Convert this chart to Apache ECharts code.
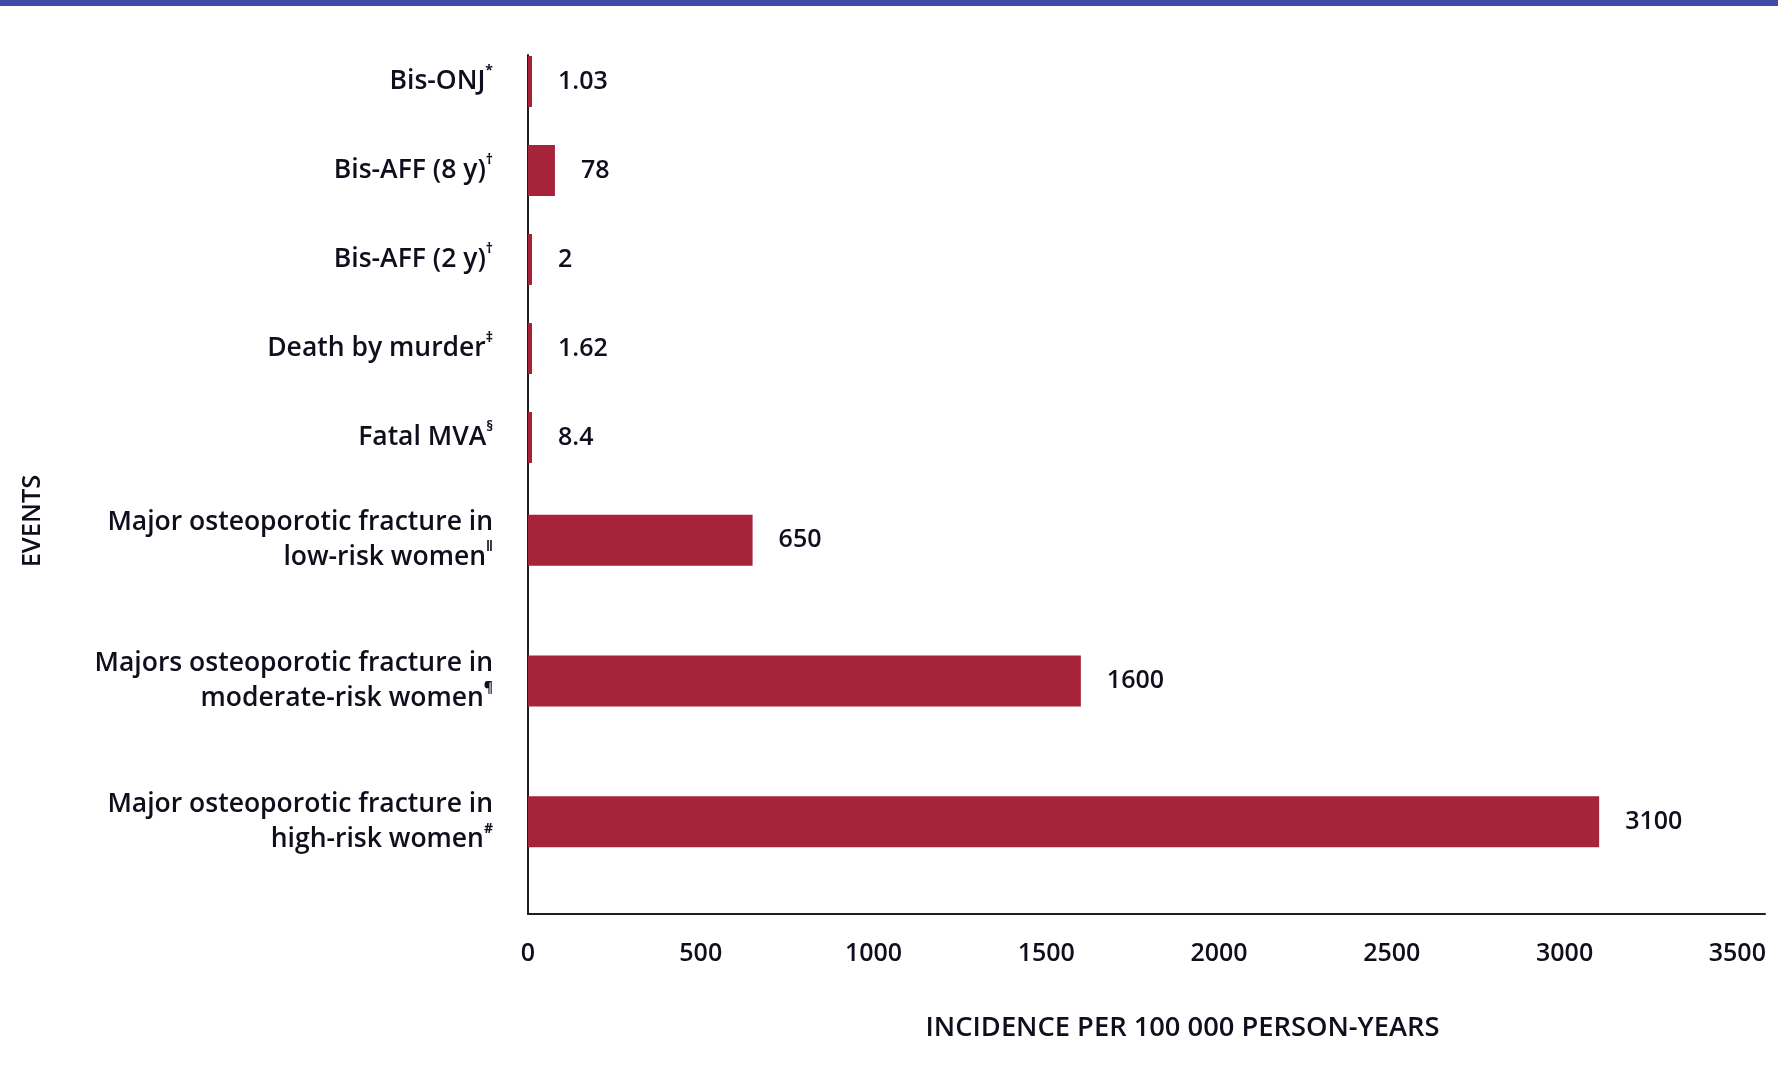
<!DOCTYPE html>
<html>
<head>
<meta charset="utf-8">
<title>Incidence per 100 000 person-years</title>
<script src="https://cdn.jsdelivr.net/npm/echarts@6/dist/echarts.min.js"></script>
<style>
  html, body { margin: 0; padding: 0; background: #ffffff; }
  #chart { width: 1791px; height: 1070px; }
</style>
</head>
<body>
<div id="chart"></div>
<script>
// Rare events (top block), top to bottom
const rareEvents = ['Bis-ONJ', 'Bis-AFF (8 y)', 'Bis-AFF (2 y)', 'Death by murder', 'Fatal MVA'];
const rareMarks = ['*', '\u2020', '\u2020', '\u2021', '\u00a7'];
const rareIncidence = [1.03, 78, 2, 1.62, 8.4];

// Major osteoporotic fractures (bottom block), top to bottom
const fractureEvents = [
  'Major osteoporotic fracture in\nlow-risk women',
  'Majors osteoporotic fracture in\nmoderate-risk women',
  'Major osteoporotic fracture in\nhigh-risk women'
];
const fractureMarks = ['\u2016', '\u00b6', '#'];
const fractureIncidence = [650, 1600, 3100];

// Shared value axis (incidence per 100 000 person-years)
const xMin = 0;
const xMax = 3580;
const xInterval = 500;

const FONT = '"Open Sans", "Liberation Sans", sans-serif';
const WEIGHT = 600;
const TEXT = '#0e0e1c';
const BAR = '#a6233a';
const AXIS = '#1e1e1e';

const chart = echarts.init(document.getElementById('chart'), null, { renderer: 'canvas' });

// Event name with its footnote mark raised after the last line
function labelWithMark(marks) {
  return function (value, index) {
    const lines = value.split('\n');
    return lines.map(function (line, i) {
      let s = '{t|' + line + '}';
      if (i === lines.length - 1) s += '{s|' + marks[index] + '}';
      return s;
    }).join('\n');
  };
}

const eventRich = {
  t: { fontFamily: FONT, fontWeight: WEIGHT, fontSize: 26.5, color: TEXT, lineHeight: 35 },
  s: { fontFamily: FONT, fontSize: 14, fontWeight: 'bold', color: TEXT, lineHeight: 22, verticalAlign: 'top' }
};

function eventAxis(gridIndex, data, marks) {
  return {
    gridIndex: gridIndex,
    type: 'category',
    data: data,
    inverse: true,
    axisLine: { show: false },
    axisTick: { show: false },
    splitLine: { show: false },
    axisLabel: { margin: 35, formatter: labelWithMark(marks), rich: eventRich }
  };
}

function hiddenValueAxis(gridIndex) {
  return { gridIndex: gridIndex, type: 'value', min: xMin, max: xMax, interval: xInterval, show: false };
}

const barLabel = {
  show: true,
  position: 'right',
  distance: 26,
  fontFamily: FONT,
  fontWeight: WEIGHT,
  fontSize: 25,
  color: TEXT,
  formatter: '{c}'
};

const option = {
  backgroundColor: '#ffffff',
  animation: false,
  graphic: [
    { type: 'rect', left: 0, top: 0, shape: { width: 1778, height: 6 }, style: { fill: '#4349a9' } }
  ],
  grid: [
    // rare events
    { left: 528, right: 26, top: 37, bottom: 588, outerBoundsMode: 'none', containLabel: false },
    // fractures
    { left: 528, right: 26, top: 470, bottom: 178, outerBoundsMode: 'none', containLabel: false },
    // full frame carrying the vertical axis line
    { left: 528, right: 26, top: 55, bottom: 156, outerBoundsMode: 'none', containLabel: false }
  ],
  xAxis: [
    hiddenValueAxis(0),
    {
      gridIndex: 1,
      type: 'value',
      min: xMin,
      max: xMax,
      interval: xInterval,
      offset: 22,
      axisLine: { show: true, lineStyle: { color: AXIS, width: 2 } },
      axisTick: { show: false },
      splitLine: { show: false },
      axisLabel: {
        margin: 27,
        fontFamily: FONT,
        fontWeight: WEIGHT,
        fontSize: 25,
        color: TEXT,
        formatter: function (v) { return v % xInterval === 0 ? String(v) : ''; }
      },
      name: 'INCIDENCE PER 100 000 PERSON-YEARS',
      nameLocation: 'middle',
      nameGap: 101,
      nameTextStyle: { fontFamily: FONT, fontWeight: WEIGHT, fontSize: 27.3, color: TEXT, padding: [0, 0, 0, 72] }
    },
    hiddenValueAxis(2)
  ],
  yAxis: [
    eventAxis(0, rareEvents, rareMarks),
    eventAxis(1, fractureEvents, fractureMarks),
    {
      gridIndex: 2,
      type: 'value',
      min: 0,
      max: 1,
      axisLine: { show: true, onZero: false, lineStyle: { color: AXIS, width: 2 } },
      axisTick: { show: false },
      axisLabel: { show: false },
      splitLine: { show: false },
      name: 'EVENTS',
      nameLocation: 'middle',
      nameRotate: 90,
      nameGap: 482,
      nameTextStyle: { fontFamily: FONT, fontWeight: WEIGHT, fontSize: 25.5, color: TEXT, padding: [0, 73, 0, 0] }
    }
  ],
  series: [
    {
      name: 'Rare events',
      type: 'bar',
      xAxisIndex: 0,
      yAxisIndex: 0,
      data: rareIncidence,
      barWidth: 51,
      barMinHeight: 4,
      itemStyle: { color: BAR },
      label: barLabel
    },
    {
      name: 'Major osteoporotic fractures',
      type: 'bar',
      xAxisIndex: 1,
      yAxisIndex: 1,
      data: fractureIncidence,
      barWidth: 51,
      barMinHeight: 4,
      itemStyle: { color: BAR },
      label: barLabel
    }
  ]
};

chart.setOption(option);
</script>
</body>
</html>
